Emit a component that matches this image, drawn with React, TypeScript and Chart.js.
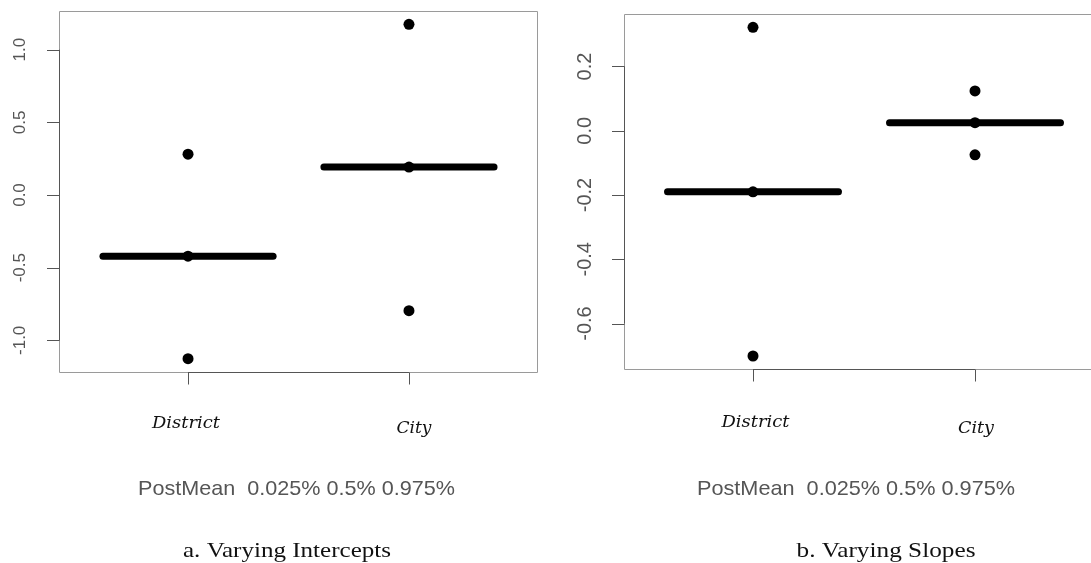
import React, { useEffect, useRef } from "react";
import { Chart, registerables } from "chart.js";

Chart.register(...registerables);

// ---- data ----
const categories = ["District", "City"];

const interceptPostMean = [-0.421, 0.192];
const interceptQ025 = [-1.126, -0.796];
const interceptQ50 = [-0.421, 0.192];
const interceptQ975 = [0.281, 1.174];

const slopePostMean = [-0.19, 0.025];
const slopeQ025 = [-0.701, -0.075];
const slopeQ50 = [-0.19, 0.025];
const slopeQ975 = [0.322, 0.124];

const interceptTicks = [-1.0, -0.5, 0.0, 0.5, 1.0];
const interceptTickLabels = ["-1.0", "-0.5", "0.0", "0.5", "1.0"];
const slopeTicks = [-0.6, -0.4, -0.2, 0.0, 0.2];
const slopeTickLabels = ["-0.6", "-0.4", "-0.2", "0.0", "0.2"];

const legendText = "PostMean  0.025% 0.5% 0.975%";
const captions = ["a. Varying Intercepts", "b. Varying Slopes"];

// ---- helpers ----
function fitText(
  ctx: CanvasRenderingContext2D,
  text: string,
  cx: number,
  baseline: number,
  font: string,
  width: number,
  color: string
) {
  ctx.save();
  ctx.font = font;
  ctx.fillStyle = color;
  const w = ctx.measureText(text).width;
  const sx = width / w;
  ctx.translate(cx, baseline);
  ctx.scale(sx, 1);
  ctx.textAlign = "center";
  ctx.textBaseline = "alphabetic";
  ctx.fillText(text, 0, 0);
  ctx.restore();
}

type PanelCfg = {
  offsetX: number;
  width: number;
  height: number;
  padding: { left: number; top: number; right: number; bottom: number };
  xMin: number;
  xMax: number;
  yMin: number;
  yMax: number;
  ticks: number[];
  tickLabels: string[];
  tickFont: number;
  tickLabelX: number;
  rightBorder: boolean;
  postMean: number[];
  q025: number[];
  q50: number[];
  q975: number[];
  catLabels: { cx: number; base: number; w: number }[];
  legend: { cx: number; base: number; w: number };
  caption: { text: string; cx: number; base: number; w: number };
};

const panels: PanelCfg[] = [
  {
    offsetX: 0,
    width: 545,
    height: 563,
    padding: { left: 59, top: 11, right: 7, bottom: 191 },
    xMin: 0.416,
    xMax: 2.584,
    yMin: -1.218,
    yMax: 1.266,
    ticks: interceptTicks,
    tickLabels: interceptTickLabels,
    tickFont: 17,
    tickLabelX: 20.5,
    rightBorder: true,
    postMean: interceptPostMean,
    q025: interceptQ025,
    q50: interceptQ50,
    q975: interceptQ975,
    catLabels: [
      { cx: 186, base: 428, w: 68 },
      { cx: 414, base: 433, w: 35 },
    ],
    legend: { cx: 296.5, base: 495, w: 317 },
    caption: { text: captions[0], cx: 287, base: 557, w: 208 },
  },
  {
    offsetX: 545,
    width: 546,
    height: 563,
    padding: { left: 79, top: 14, right: 0, bottom: 194 },
    xMin: 0.419,
    xMax: 2.5225,
    yMin: -0.7415,
    yMax: 0.3634,
    ticks: slopeTicks,
    tickLabels: slopeTickLabels,
    tickFont: 20,
    tickLabelX: 40.5,
    rightBorder: false,
    postMean: slopePostMean,
    q025: slopeQ025,
    q50: slopeQ50,
    q975: slopeQ975,
    catLabels: [
      { cx: 755.5 - 545, base: 427, w: 68 },
      { cx: 976 - 545, base: 433, w: 36 },
    ],
    legend: { cx: 856 - 545, base: 495, w: 318 },
    caption: { text: captions[1], cx: 886 - 545, base: 557, w: 179 },
  },
];

const HALF = 0.385;

function Panel({ cfg }: { cfg: PanelCfg }) {
  const ref = useRef<HTMLCanvasElement>(null);
  useEffect(() => {
    if (!ref.current) return;
    const meanSets = categories.map((_, i) => ({
      type: "scatter" as const,
      showLine: true,
      data: [
        { x: i + 1 - HALF, y: cfg.postMean[i] },
        { x: i + 1 + HALF, y: cfg.postMean[i] },
      ],
      borderColor: "#000",
      borderWidth: 7,
      borderCapStyle: "round" as const,
      pointRadius: 0,
      order: 2,
    }));
    const quantPoints: { x: number; y: number }[] = [];
    categories.forEach((_, i) => {
      quantPoints.push({ x: i + 1, y: cfg.q025[i] });
      quantPoints.push({ x: i + 1, y: cfg.q50[i] });
      quantPoints.push({ x: i + 1, y: cfg.q975[i] });
    });

    const decor = {
      id: "decor",
      beforeDatasetsDraw(chart: any) {
        const ctx = chart.ctx as CanvasRenderingContext2D;
        const { left, right, top, bottom } = chart.chartArea;
        const xs = chart.scales.x;
        const ys = chart.scales.y;
        ctx.save();
        ctx.lineWidth = 1;
        // box
        ctx.strokeStyle = "#9a9a9a";
        ctx.beginPath();
        ctx.moveTo(Math.round(left) + 0.5, Math.round(bottom) + 0.5);
        ctx.lineTo(Math.round(left) + 0.5, Math.round(top) + 0.5);
        ctx.lineTo(cfg.rightBorder ? Math.round(right) - 0.5 : right, Math.round(top) + 0.5);
        if (cfg.rightBorder) {
          ctx.lineTo(Math.round(right) - 0.5, Math.round(bottom) + 0.5);
        } else {
          ctx.moveTo(right, Math.round(bottom) + 0.5);
        }
        ctx.lineTo(Math.round(left) + 0.5, Math.round(bottom) + 0.5);
        ctx.stroke();
        // darker axis lines
        ctx.strokeStyle = "#555";
        const yp = cfg.ticks.map((t) => ys.getPixelForValue(t));
        ctx.beginPath();
        ctx.moveTo(Math.round(left) + 0.5, Math.min(...yp));
        ctx.lineTo(Math.round(left) + 0.5, Math.max(...yp));
        const xp = categories.map((_, i) => xs.getPixelForValue(i + 1));
        ctx.moveTo(xp[0], Math.round(bottom) + 0.5);
        ctx.lineTo(xp[xp.length - 1], Math.round(bottom) + 0.5);
        // tick marks
        yp.forEach((p) => {
          ctx.moveTo(Math.round(left) + 0.5, Math.round(p) + 0.5);
          ctx.lineTo(Math.round(left) - 12, Math.round(p) + 0.5);
        });
        xp.forEach((p) => {
          ctx.moveTo(Math.round(p) + 0.5, Math.round(bottom) + 0.5);
          ctx.lineTo(Math.round(p) + 0.5, Math.round(bottom) + 12.5);
        });
        ctx.stroke();
        ctx.restore();
      },
      afterDraw(chart: any) {
        const ctx = chart.ctx as CanvasRenderingContext2D;
        const ys = chart.scales.y;
        ctx.save();
        // rotated y tick labels
        ctx.fillStyle = "#555";
        ctx.font = `${cfg.tickFont}px 'Liberation Sans', Arial, sans-serif`;
        ctx.textAlign = "center";
        ctx.textBaseline = "middle";
        cfg.ticks.forEach((t, i) => {
          const p = ys.getPixelForValue(t);
          ctx.save();
          ctx.translate(cfg.tickLabelX, p);
          ctx.rotate(-Math.PI / 2);
          ctx.fillText(cfg.tickLabels[i], 0, 0);
          ctx.restore();
        });
        ctx.restore();
        // category labels
        categories.forEach((c, i) => {
          const l = cfg.catLabels[i];
          fitText(ctx, c, l.cx, l.base, "italic 16px 'DejaVu Serif', serif", l.w, "#111");
        });
        fitText(
          ctx,
          legendText,
          cfg.legend.cx,
          cfg.legend.base,
          "21px 'Liberation Sans', Arial, sans-serif",
          cfg.legend.w,
          "#555"
        );
        fitText(
          ctx,
          cfg.caption.text,
          cfg.caption.cx,
          cfg.caption.base,
          "22px 'Liberation Serif', 'Times New Roman', serif",
          cfg.caption.w,
          "#111"
        );
      },
    };

    const chart = new Chart(ref.current, {
      type: "scatter",
      data: {
        datasets: [
          ...meanSets,
          {
            type: "scatter" as const,
            data: quantPoints,
            pointRadius: 5.5,
            pointBackgroundColor: "#000",
            pointBorderWidth: 0,
            borderWidth: 0,
            order: 1,
          },
        ] as any,
      },
      options: {
        animation: false,
        responsive: false,
        events: [],
        layout: { padding: cfg.padding, autoPadding: false },
        plugins: { legend: { display: false }, tooltip: { enabled: false } },
        scales: {
          x: { type: "linear", min: cfg.xMin, max: cfg.xMax, display: false },
          y: { type: "linear", min: cfg.yMin, max: cfg.yMax, display: false },
        },
      },
      plugins: [decor],
    });
    return () => chart.destroy();
  }, [cfg]);
  return (
    <canvas
      ref={ref}
      width={cfg.width}
      height={cfg.height}
      style={{
        position: "absolute",
        left: cfg.offsetX,
        top: 0,
        width: cfg.width,
        height: cfg.height,
        display: "block",
      }}
    />
  );
}

export default function App() {
  return (
    <div
      style={{
        position: "fixed",
        left: 0,
        top: 0,
        width: 1091,
        height: 563,
        background: "#fff",
        overflow: "hidden",
      }}
    >
      {panels.map((p, i) => (
        <Panel key={i} cfg={p} />
      ))}
    </div>
  );
}
